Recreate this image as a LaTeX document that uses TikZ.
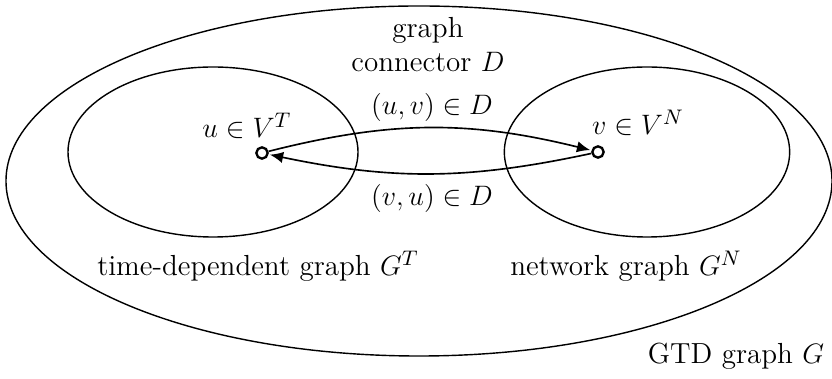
\documentclass[tikz,border=0pt]{standalone}
\usepackage{amsmath}
\usetikzlibrary{
  arrows.meta,
  positioning,
  shapes.geometric
}

\begin{document}
\begin{tikzpicture}[
  x=0.015cm, y=-0.015cm,
  set/.style={
    ellipse,
    draw,
    line width=0.6pt,
    inner sep=0pt
  },
  vertex/.style={
    circle,
    draw,
    line width=1pt,
    inner sep=0pt,
    minimum size=0.17cm
  },
  conn/.style={
    -{Latex[length=2mm,width=1.7mm]},
    line width=0.7pt,
    shorten >=0.5pt
  },
  lbl/.style={
    align=center,
    font=\fontsize{12.4}{14.5}\selectfont
  }
]

\useasboundingbox (0,0) rectangle (832,379);

\node[set, minimum width=12.39cm, minimum height=5.25cm] (gtd) at (419,181) {};
\node[set, minimum width=4.35cm, minimum height=2.55cm] (tdg) at (213,152) {};
\node[set, minimum width=4.28cm, minimum height=2.55cm] (netg) at (647,152) {};

\node[vertex] (u) at (262,153) {};
\node[vertex] (v) at (598,152) {};

\node[lbl] (ulbl) at (247,126) {$u \in V^T$};
\node[lbl] (vlbl) at (638,123) {$v \in V^N$};
\node[lbl] (conn) at (428,45) {graph\\connector $D$};
\node[lbl] (uv) at (432,107) {$(u,v) \in D$};
\node[lbl] (vu) at (432,198) {$(v,u) \in D$};
\node[lbl] (tdglbl) at (258,266) {time-dependent graph $G^T$};
\node[lbl] (netglbl) at (626,266) {network graph $G^N$};
\node[lbl] (gtdlbl) at (736,356) {GTD graph $G$};

\draw[conn] (u) to[bend left=14] (v);
\draw[conn] (v) to[bend left=12] (u);

\end{tikzpicture}
\end{document}
